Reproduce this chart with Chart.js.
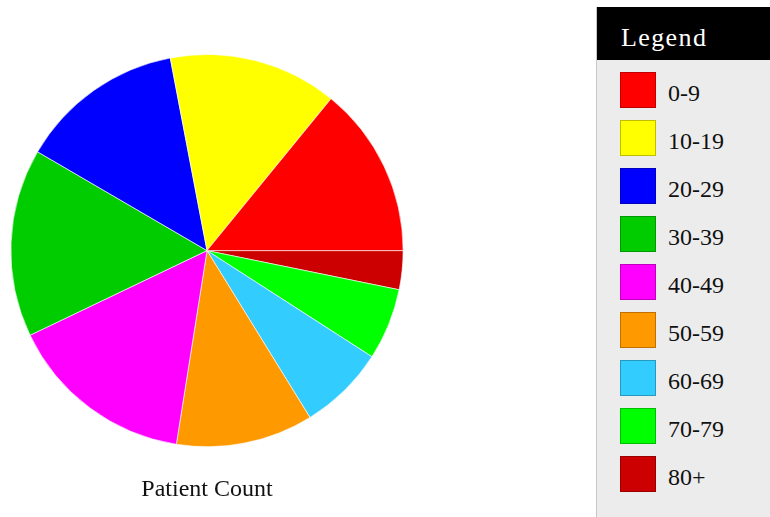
<!DOCTYPE html>
<html>
<head>
<meta charset="utf-8">
<script src="https://cdn.jsdelivr.net/npm/chart.js@4"></script>
<style>
    html, body { margin: 0; padding: 0; background: #fff; overflow: hidden; }
    #wrap { position: absolute; left: 0; top: 0; width: 414px; height: 517px; }
    #legend {
        position: absolute; left: 596px; top: 7px; width: 180px; height: 520px;
        background: #ececec; border-left: 1px solid #c8c8c8;
        font-family: "Liberation Serif", "Times New Roman", serif;
    }
    #legend .head {
        background: #000; color: #fff; height: 53px; line-height: 61px; overflow: hidden;
        font-size: 26px; letter-spacing: 1.4px; padding-left: 24px;
    }
    #legend .item { position: absolute; left: 23px; height: 36px; }
    #legend .sw {
        position: absolute; left: 0; top: 0; width: 34px; height: 34px;
        border: 1px solid rgba(0, 0, 0, 0.25);
    }
    #legend .lbl {
        position: absolute; left: 48px; top: 0; line-height: 42px;
        font-size: 24px; color: #111; white-space: nowrap;
    }
</style>
</head>
<body>
<div id="wrap"><canvas id="pie"></canvas></div>
<div id="legend"><div class="head">Legend</div></div>
<script>
// age groups and share of patients (percent)
const ageGroups = ["0-9", "10-19", "20-29", "30-39", "40-49", "50-59", "60-69", "70-79", "80+"];
const patientCount = [14.1, 13.9, 13.6, 15.5, 15.4, 11.3, 7.1, 5.9, 3.2];
const groupColors = ["#ff0000", "#ffff00", "#0000ff", "#00cc00", "#ff00ff", "#ff9900", "#33ccff", "#00ff00", "#cc0000"];

// legend box on the right
let legend = document.getElementById("legend");
ageGroups.forEach((g, i) => {
    let item = document.createElement("div");
    item.className = "item";
    item.style.top = (65 + i * 48) + "px";
    item.innerHTML = '<div class="sw" style="background:' + groupColors[i] + '"></div><div class="lbl">' + g + '</div>';
    legend.appendChild(item);
});

// the pie runs counter-clockwise from 3 o'clock, chart.js only goes clockwise,
// so feed it reversed and start at 90 deg
let labels = ageGroups.slice().reverse();
let values = patientCount.slice().reverse();
let colors = groupColors.slice().reverse();

var ctx = document.getElementById("pie").getContext("2d");
var pie = new Chart(ctx, {
    type: "pie",
    data: {
        labels: labels,
        datasets: [{
            label: "Patient Count",
            data: values,
            backgroundColor: colors,
            borderColor: "rgba(255,255,255,0.6)",
            borderWidth: 1,
        }, ],
    },
    options: {
        responsive: true,
        maintainAspectRatio: false,
        animation: false,
        rotation: 90,
        layout: {
            padding: { top: 54, left: 10, right: 10, bottom: 7 }
        },
        plugins: {
            legend: { display: false },
            tooltip: { enabled: false },
            title: {
                display: true,
                position: "bottom",
                text: "Patient Count",
                color: "#111",
                font: { family: "'Liberation Serif', 'Times New Roman', serif", size: 24, weight: "normal" },
                padding: { top: 28, bottom: 6 }
            }
        }
    },
});
</script>
</body>
</html>
